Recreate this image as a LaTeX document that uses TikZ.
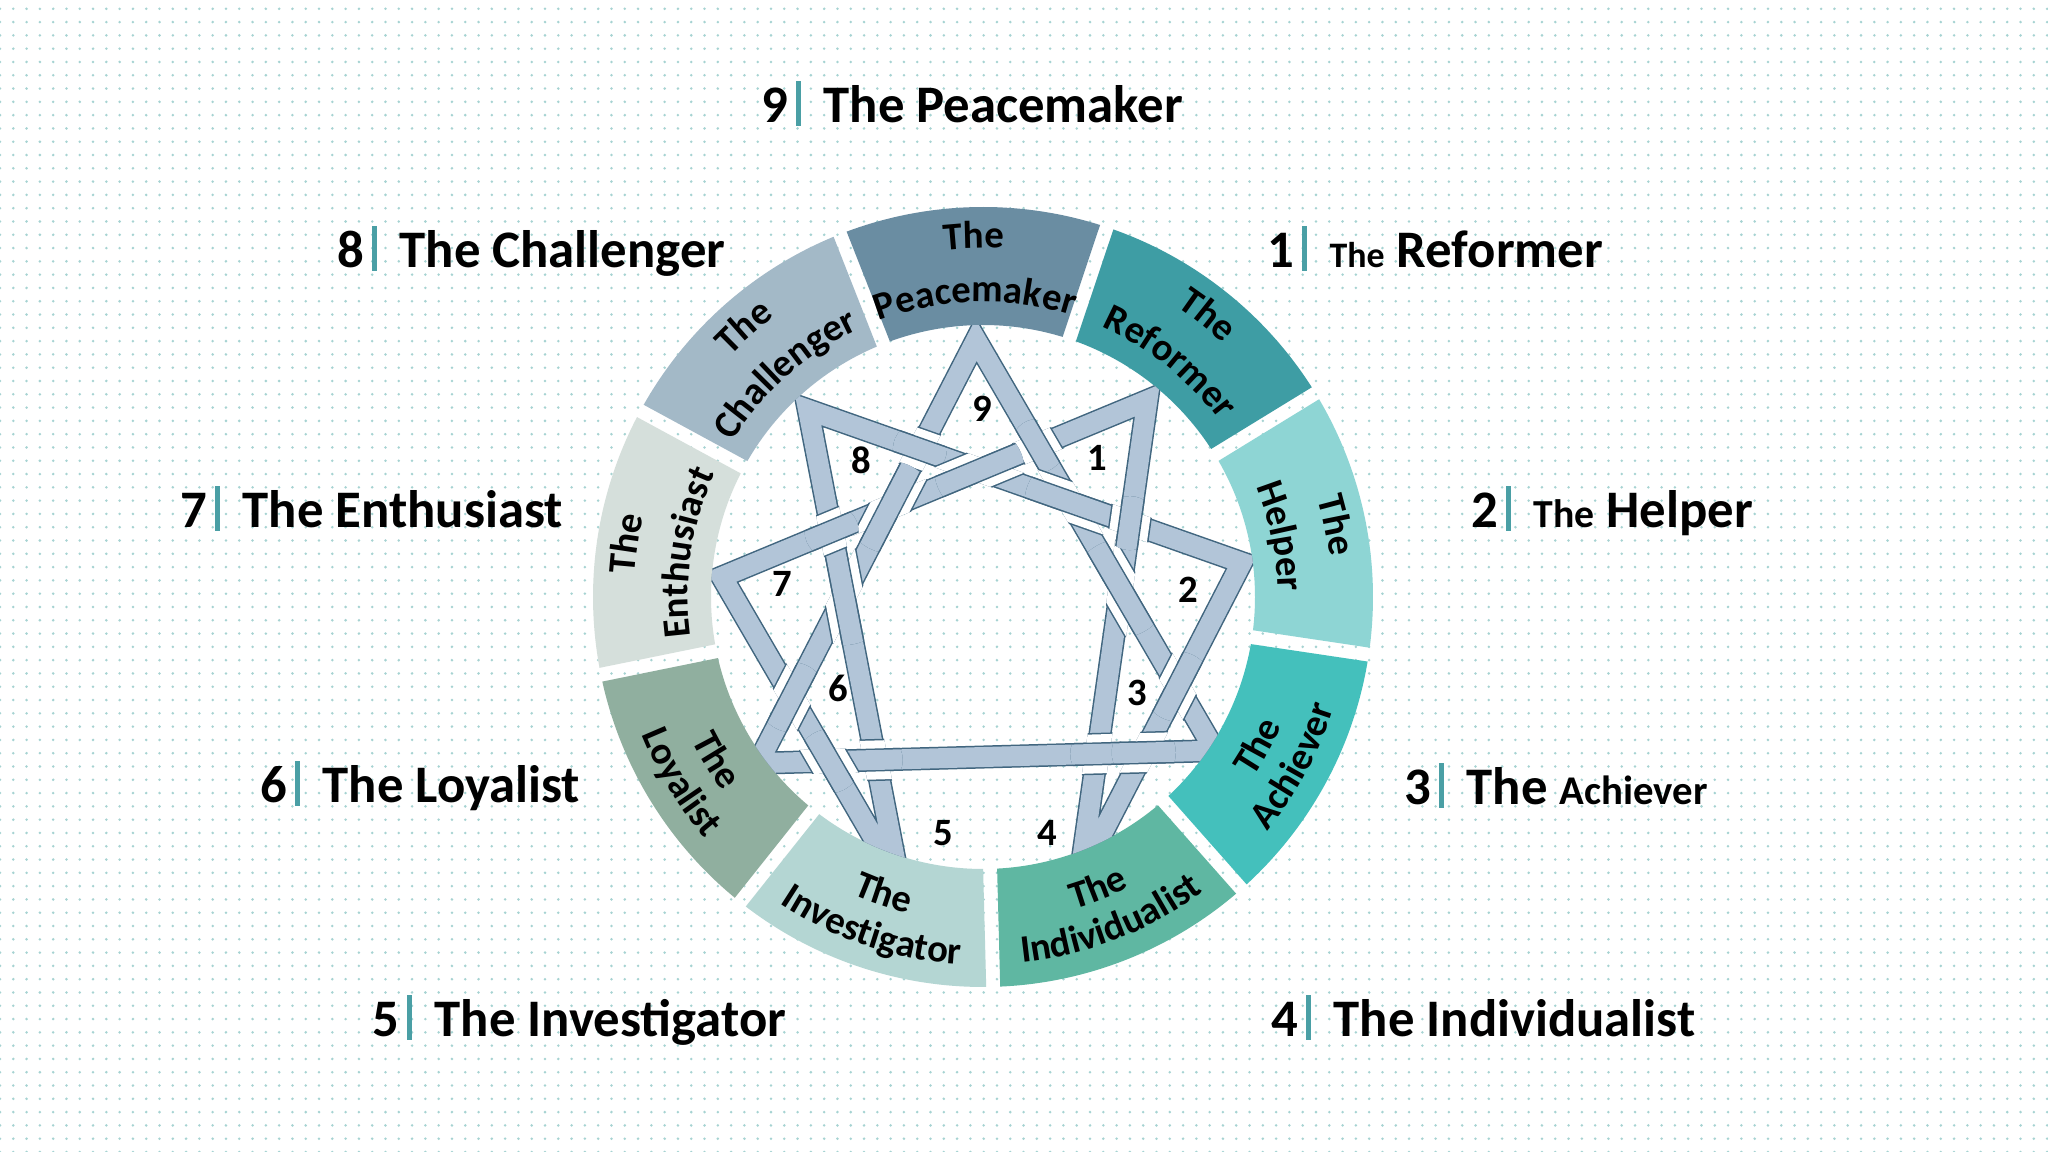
\documentclass[tikz,border=0pt]{standalone}
\usepackage{fontspec}
\setmainfont{Carlito}
\usetikzlibrary{calc,decorations.text,patterns.meta}

\definecolor{cPeace}{HTML}{6A8DA2}
\definecolor{cReform}{HTML}{3E9DA4}
\definecolor{cHelp}{HTML}{8ED5D4}
\definecolor{cAchieve}{HTML}{44C0BC}
\definecolor{cIndiv}{HTML}{5FB7A2}
\definecolor{cInvest}{HTML}{B4D6D3}
\definecolor{cLoyal}{HTML}{90AF9F}
\definecolor{cEnthu}{HTML}{D5DFDB}
\definecolor{cChall}{HTML}{A3B9C7}
\definecolor{starline}{HTML}{41667F}
\definecolor{starfill}{HTML}{B2C5D8}
\definecolor{barcol}{HTML}{4A9FA5}
\definecolor{dotcol}{HTML}{A6D3D2}

\tikzdeclarepattern{
  name=bgdots,
  type=uncolored,
  bounding box={(-0.5pt,-0.5pt) and (0.5pt,0.5pt)},
  tile size={(3.78pt,3.78pt)},
  code={\fill (0pt,0pt) circle (0.4pt);}
}

\newcommand\segfont{\bfseries\fontsize{11}{13}\selectfont}

\newcommand\ringseg[2]{%
  \fill[#2] ($(O)+({#1-20+1.4747}:272)$) arc[start angle={#1-20+1.4747}, end angle={#1+20-1.4747}, radius=272]
    -- ($(O)+({#1+20-1.0285}:390)$) arc[start angle={#1+20-1.0285}, end angle={#1-20+1.0285}, radius=390] -- cycle;}

\newcommand\uptext[4]{%
  \path[decorate, decoration={text along path, text align=center, text={|\segfont|#4}}]
    ($(O)+({#1+#3}:#2)$) arc[start angle={#1+#3}, end angle={#1-#3}, radius=#2];}
\newcommand\downtext[4]{%
  \path[decorate, decoration={text along path, text align=center, text={|\segfont|#4}}]
    ($(O)+({#1-#3}:#2)$) arc[start angle={#1-#3}, end angle={#1+#3}, radius=#2];}

% #1--#2 over band, #3--#4 under band, #5 radius of the local patch
\newcommand\xover[5]{%
  \coordinate (X) at (intersection of #1--#2 and #3--#4);
  \begin{scope}
    \clip (X) circle (#5);
    \begin{scope}
      \clip ($(#3)!0.122cm!90:(#4)$) -- ($(#4)!0.122cm!-90:(#3)$) -- ($(#4)!0.122cm!90:(#3)$) -- ($(#3)!0.122cm!-90:(#4)$) -- cycle;
      \draw[line width=0.42cm, starline] (#1) -- (#2);
      \draw[line width=0.39cm, white] (#1) -- (#2);
    \end{scope}
    \draw[line width=0.23cm, starline] (#1) -- (#2);
    \draw[line width=0.20cm, starfill] (#1) -- (#2);
  \end{scope}}

\tikzset{
  lab/.style={anchor=base west, inner sep=0pt, font=\bfseries\fontsize{15}{18}\selectfont, text=black},
  numbar/.style={barcol, line width=0.05cm},
  num/.style={inner sep=0pt, font=\bfseries\fontsize{11}{13}\selectfont, text=black},
  bandout/.style={line width=0.23cm, starline, line join=miter, miter limit=12},
  bandin/.style={line width=0.20cm, starfill, line join=miter, miter limit=12}
}

\begin{document}
\begin{tikzpicture}[x=0.01cm, y=0.01cm]
\useasboundingbox (0,0) rectangle (2048,1152);
\fill[white] (0,0) rectangle (2048,1152);
\fill[pattern=bgdots, pattern color=dotcol] (0,0) rectangle (2048,1152);
\coordinate (O) at (983,555);

% ring segments
\ringseg{91.5}{cPeace}
\ringseg{51.5}{cReform}
\ringseg{11.5}{cHelp}
\ringseg{-28.5}{cAchieve}
\ringseg{-68.5}{cIndiv}
\ringseg{-108.5}{cInvest}
\ringseg{-148.5}{cLoyal}
\ringseg{171.5}{cEnthu}
\ringseg{131.5}{cChall}

% segment texts
\uptext{91.5}{349}{25}{The}
\uptext{91.5}{295}{35}{Peacemaker}
\uptext{51.5}{349}{25}{The}
\uptext{51.5}{295}{35}{Reformer}
\uptext{11.5}{349}{25}{The}
\uptext{11.5}{295}{35}{Helper}
\uptext{171.5}{349}{25}{The}
\uptext{171.5}{295}{35}{Enthusiast}
\uptext{131.5}{349}{25}{The}
\uptext{131.5}{295}{35}{Challenger}
\downtext{-28.5}{325}{25}{The}
\downtext{-28.5}{368}{35}{Achiever}
\downtext{-68.5}{325}{25}{The}
\downtext{-68.5}{368}{35}{Individualist}
\downtext{-108.5}{325}{25}{The}
\downtext{-108.5}{368}{35}{Investigator}
\downtext{-148.5}{325}{25}{The}
\downtext{-148.5}{368}{35}{Loyalist}

% star
\foreach \k in {0,...,8} {\coordinate (v\k) at ({983+264*cos(91.5-40*\k)}, {534+278*sin(91.5-40*\k)});}
\begin{scope}
  \clip (O) circle (272);
  \draw[bandout] (v1) -- (v4) -- (v2) -- (v8) -- (v5) -- (v7) -- cycle;
  \draw[bandin] (v1) -- (v4) -- (v2) -- (v8) -- (v5) -- (v7) -- cycle;
  \draw[bandout] (v0) -- (v3) -- (v6) -- cycle;
  \draw[bandin] (v0) -- (v3) -- (v6) -- cycle;
  \xover{v0}{v3}{v7}{v1}{27}
  \xover{v2}{v8}{v0}{v3}{46}
  \xover{v0}{v3}{v1}{v4}{49}
  \xover{v4}{v2}{v0}{v3}{35}
  \xover{v3}{v6}{v1}{v4}{27}
  \xover{v3}{v6}{v4}{v2}{32}
  \xover{v3}{v6}{v8}{v5}{27}
  \xover{v5}{v7}{v3}{v6}{32}
  \xover{v2}{v8}{v6}{v0}{27}
  \xover{v6}{v0}{v7}{v1}{46}
  \xover{v8}{v5}{v6}{v0}{49}
  \xover{v6}{v0}{v5}{v7}{35}
  \xover{v1}{v4}{v2}{v8}{27}
  \xover{v7}{v1}{v8}{v5}{27}
  \xover{v7}{v1}{v2}{v8}{45}
\end{scope}

% star numbers
\node[num] (m9) at (982,743) {9};
\node[num] (m1) at (1097,694) {1};
\node[num] (m2) at (1188,562) {2};
\node[num] (m3) at (1137,459) {3};
\node[num] (m4) at (1047,319) {4};
\node[num] (m5) at (943,319) {5};
\node[num] (m6) at (838,464) {6};
\node[num] (m7) at (782,568) {7};
\node[num] (m8) at (861,692) {8};

% outer labels
\node[lab] (n9) at (761,1029) {9};
\draw[numbar] (798,1026) -- (798,1071);
\node[lab] (t9) at (823,1029) {The Peacemaker};

\node[lab] (n8) at (337,884) {8};
\draw[numbar] (374,881) -- (374,926);
\node[lab] (t8) at (399,884) {The Challenger};

\node[lab] (n1) at (1267,884) {1};
\draw[numbar] (1304,881) -- (1304,926);
\node[lab] (t1) at (1329,884) {{\fontsize{10.2}{12}\selectfont The} Reformer};

\node[lab] (n7) at (180,624) {7};
\draw[numbar] (217,621) -- (217,666);
\node[lab] (t7) at (242,624) {The Enthusiast};

\node[lab] (n2) at (1471,624) {2};
\draw[numbar] (1508,621) -- (1508,666);
\node[lab] (t2) at (1533,624) {{\fontsize{11.3}{13}\selectfont The} Helper};

\node[lab] (n6) at (260,349) {6};
\draw[numbar] (297,346) -- (297,391);
\node[lab] (t6) at (322,349) {The Loyalist};

\node[lab] (n3) at (1404,347) {3};
\draw[numbar] (1441,344) -- (1441,389);
\node[lab] (t3) at (1466,347) {The {\fontsize{11.6}{13}\selectfont Achiever}};

\node[lab] (n5) at (372,115) {5};
\draw[numbar] (409,112) -- (409,157);
\node[lab] (t5) at (434,115) {The Investigator};

\node[lab] (n4) at (1271,115) {4};
\draw[numbar] (1308,112) -- (1308,157);
\node[lab] (t4) at (1333,115) {The Individualist};
\end{tikzpicture}
\end{document}
